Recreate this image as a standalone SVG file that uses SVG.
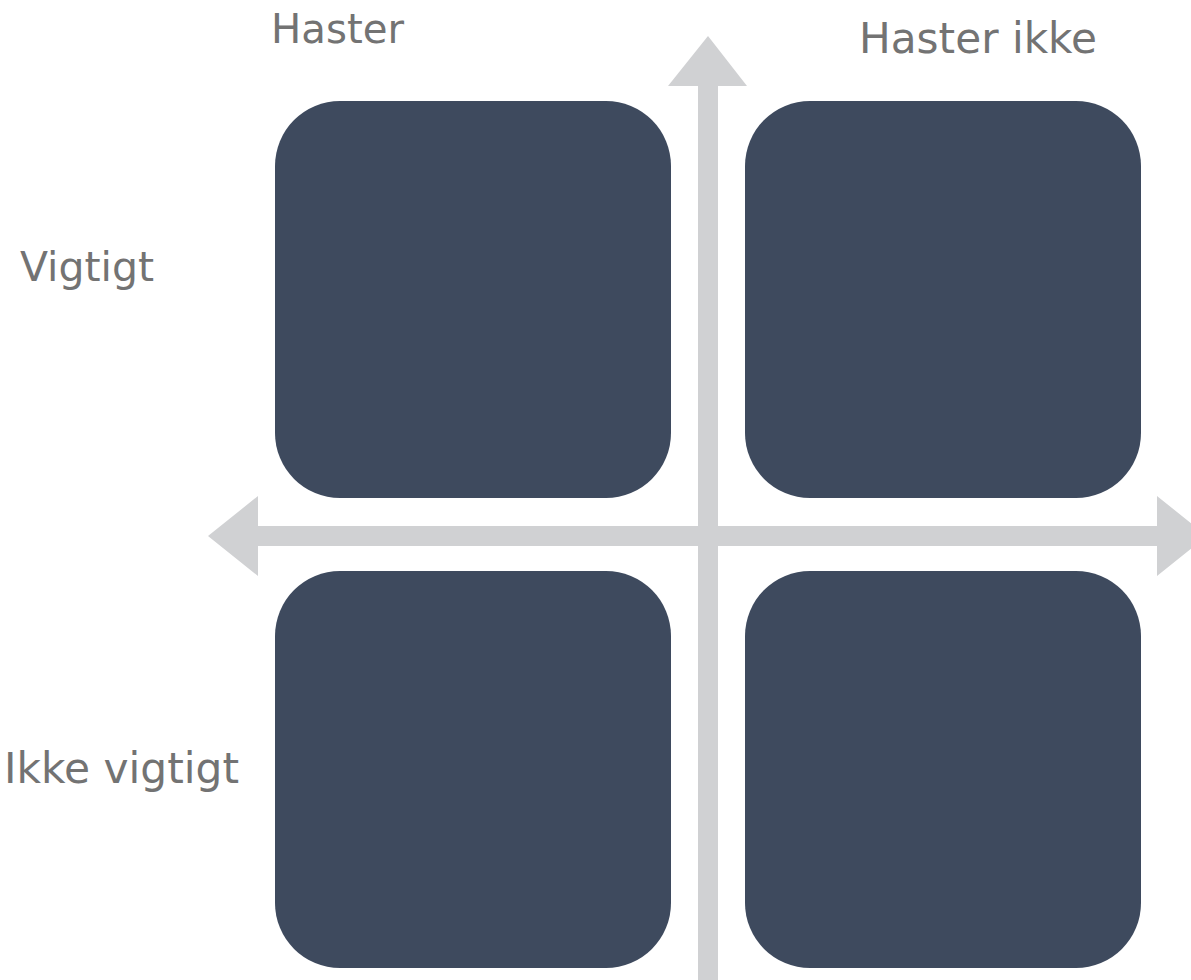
<svg xmlns="http://www.w3.org/2000/svg" width="1191" height="980" viewBox="0 0 1191 980">
<style>
.box{fill:#3E4A5E}
.ax{fill:#D0D1D3}
.lbl{font-family:"DejaVu Sans","Open Sans",sans-serif;fill:#737373}
</style>
<rect width="1191" height="980" fill="#FFFFFF"/>
<g id="connectors">
<polygon class="ax" points="708,36 747,86 718,86 718,980 698,980 698,86 668,86"/>
<polygon class="ax" points="208,536 258,496 258,526 1157,526 1157,496 1207,536 1157,576 1157,546 258,546 258,576"/>
</g>
<g id="q1"><rect class="box" x="275" y="101" width="396" height="397" rx="65" ry="65"/></g>
<g id="q2"><rect class="box" x="745" y="101" width="396" height="397" rx="65" ry="65"/></g>
<g id="q3"><rect class="box" x="275" y="571" width="396" height="397" rx="65" ry="65"/></g>
<g id="q4"><rect class="box" x="745" y="571" width="396" height="397" rx="65" ry="65"/></g>
<g id="labels">
<text class="lbl" x="271" y="43" font-size="40" textLength="133" lengthAdjust="spacingAndGlyphs">Haster</text>
<text class="lbl" x="859" y="53" font-size="42" textLength="238" lengthAdjust="spacingAndGlyphs">Haster ikke</text>
<text class="lbl" x="20" y="281" font-size="40" textLength="134" lengthAdjust="spacingAndGlyphs">Vigtigt</text>
<text class="lbl" x="4" y="783" font-size="42" textLength="235" lengthAdjust="spacingAndGlyphs">Ikke vigtigt</text>
</g>
</svg>
